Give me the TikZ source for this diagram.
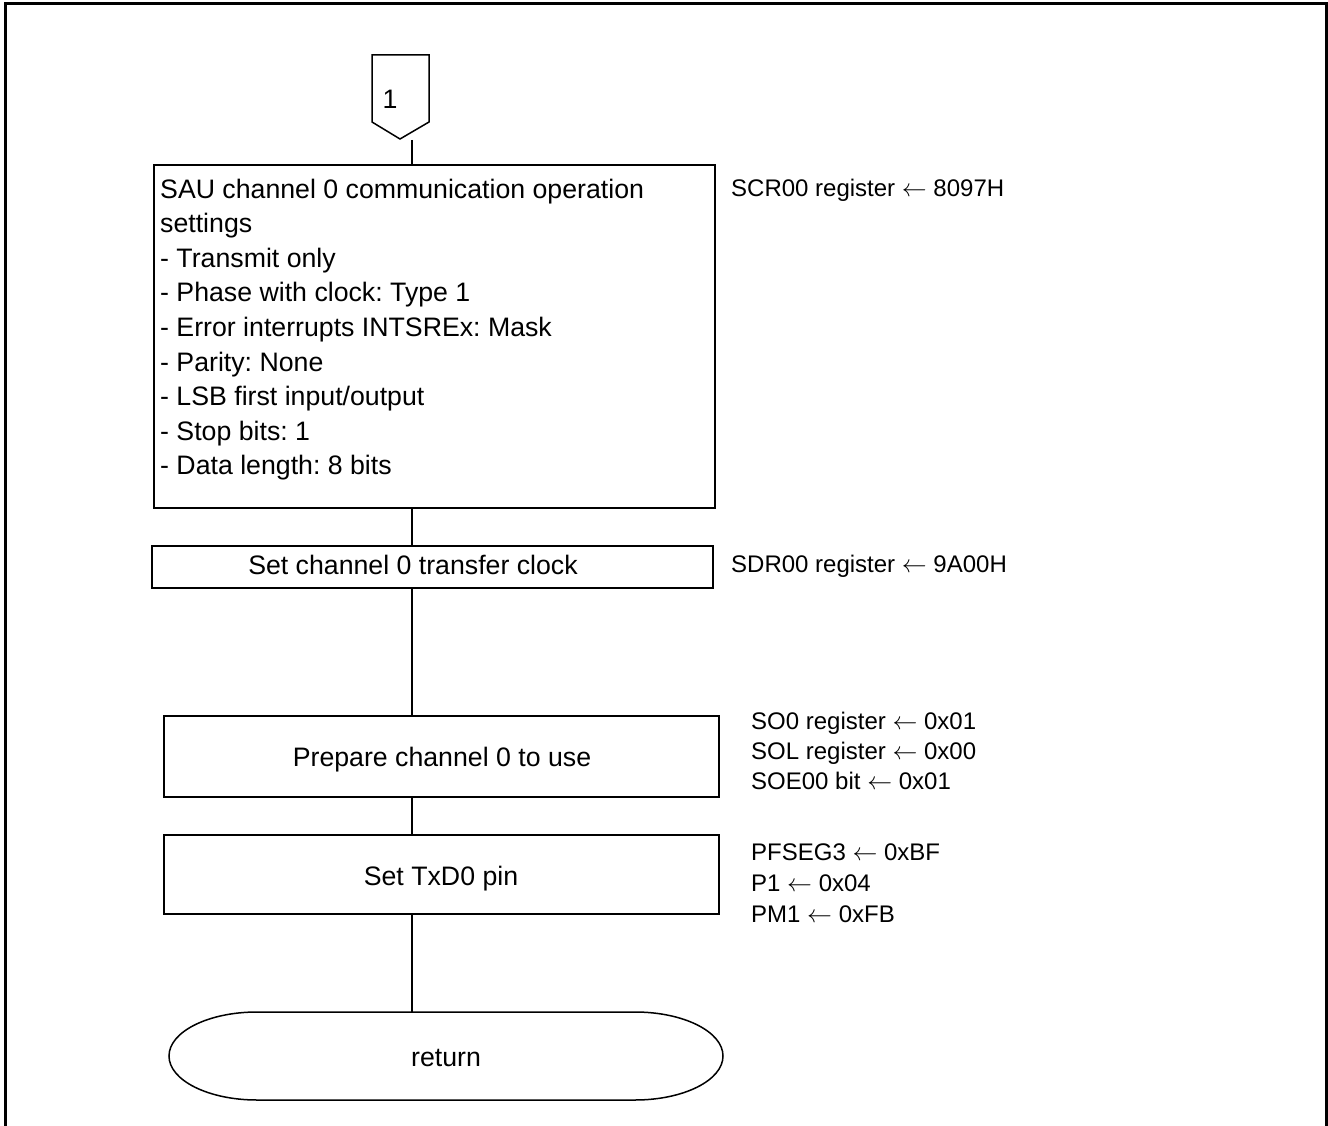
\documentclass[tikz,border=0pt]{standalone}
\usepackage{fontspec}
\setmainfont{Liberation Sans}
\frenchspacing
\begin{document}
\begin{tikzpicture}[x=1pt,y=-1pt,
  box/.style={draw,line width=1.5pt,rectangle,inner sep=0pt},
  main/.style={font=\fontsize{26.7}{34.6}\selectfont,inner sep=0pt},
  note/.style={font=\fontsize{24}{30}\selectfont,anchor=base west,inner sep=0pt},
  conn/.style={line width=1.5pt}]
\useasboundingbox (0,0) rectangle (1328,1126);
\draw[line width=3pt] (5,1126) -- (5,4) -- (1326,4) -- (1326,1126);
% off-page connector
\draw[line width=1.5pt] (372,55) -- (429,55) -- (429,122) -- (400,139) -- (372,122) -- cycle;
\node[main,anchor=base] (c1) at (390,109) {1};
% boxes
\node[box,minimum width=561pt,minimum height=343pt] (b1) at (434.5,336.5) {};
\node[main,align=left,anchor=north west] (b1t) at (160,178.5) {SAU channel 0 communication operation\\settings\\- Transmit only\\- Phase with clock: Type 1\\- Error interrupts INTSREx: Mask\\- Parity: None\\- LSB first input/output\\- Stop bits: 1\\- Data length: 8 bits};
\node[box,minimum width=561pt,minimum height=42pt] (b2) at (432.5,567) {};
\node[main,anchor=base] (b2t) at (413,574.5) {Set channel 0 transfer clock};
\node[box,minimum width=555pt,minimum height=81pt] (b3) at (441.5,756.5) {};
\node[main,anchor=base] (b3t) at (442,766.5) {Prepare channel 0 to use};
\node[box,minimum width=555pt,minimum height=79pt] (b4) at (441.5,874.5) {};
\node[main,anchor=base] (b4t) at (441,885.5) {Set TxD0 pin};
% terminal
\draw[line width=1.5pt] (257,1012) -- (635,1012) arc[start angle=90,end angle=-90,x radius=88pt,y radius=44pt] -- (257,1100) arc[start angle=270,end angle=90,x radius=88pt,y radius=44pt] -- cycle;
\node[main,anchor=base] (ret) at (446,1066.5) {return};
\coordinate (rt) at (412,1012);
% connectors
\coordinate (s0) at (412,140);
\draw[conn] (s0) -- (s0 |- b1.north);
\draw[conn] (b1.south -| s0) -- (b2.north -| s0);
\draw[conn] (b2.south -| s0) -- (b3.north -| s0);
\draw[conn] (b3.south -| s0) -- (b4.north -| s0);
\draw[conn] (b4.south -| s0) -- (rt);
% notes
\node[note] (n1) at (731,196.6) {SCR00 register $\leftarrow$ 8097H};
\node[note] (n2) at (731,572.6) {SDR00 register $\leftarrow$ 9A00H};
\node[note] (n3) at (751,729.6) {SO0 register $\leftarrow$ 0x01};
\node[note] (n4) at (751,759.6) {SOL register $\leftarrow$ 0x00};
\node[note] (n5) at (751,789.6) {SOE00 bit $\leftarrow$ 0x01};
\node[note] (n6) at (751,860.6) {PFSEG3 $\leftarrow$ 0xBF};
\node[note] (n7) at (751,891.6) {P1 $\leftarrow$ 0x04};
\node[note] (n8) at (751,922.6) {PM1 $\leftarrow$ 0xFB};
\end{tikzpicture}
\end{document}
